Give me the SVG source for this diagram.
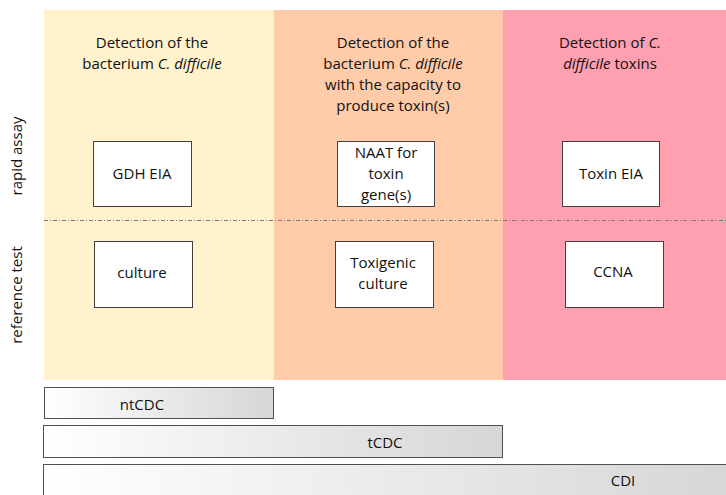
<svg xmlns="http://www.w3.org/2000/svg" width="726" height="495" viewBox="0 0 726 495">
<defs>
<linearGradient id="barg" x1="0" y1="0" x2="1" y2="0">
<stop offset="0" stop-color="#ffffff"/>
<stop offset="1" stop-color="#d6d6d6"/>
</linearGradient>
<style>
text{font-family:"Open Sans","Liberation Sans",sans-serif;font-size:15px;fill:#111111;text-anchor:middle}
.box{fill:#ffffff;stroke:#404040;stroke-width:1}
.bar{fill:url(#barg);stroke:#505050;stroke-width:1}
.sep{stroke:#7a7a7a;stroke-width:1;stroke-dasharray:4 2 1 2;fill:none}
</style>
</defs>
<rect id="col1" x="44" y="10" width="230" height="370" fill="#FFF2CC"/>
<rect id="col2" x="274" y="10" width="229" height="370" fill="#FFCBA9"/>
<rect id="col3" x="503" y="10" width="223" height="370" fill="#FFA0B1"/>
<g id="headers">
<text x="152" y="48">Detection of the</text>
<text x="152" y="69">bacterium <tspan font-style="italic">C. difficile</tspan></text>
<text x="393" y="48">Detection of the</text>
<text x="393" y="69">bacterium <tspan font-style="italic">C. difficile</tspan></text>
<text x="393" y="90">with the capacity to</text>
<text x="393" y="111">produce toxin(s)</text>
<text x="610" y="48">Detection of <tspan font-style="italic">C.</tspan></text>
<text x="610" y="69"><tspan font-style="italic">difficile</tspan> toxins</text>
</g>
<text id="rowlabel1" transform="translate(22,156) rotate(-90)">rapid assay</text>
<text id="rowlabel2" transform="translate(22,295) rotate(-90)">reference test</text>
<g id="connectors">
<line class="sep" x1="44" y1="220.5" x2="726" y2="220.5"/>
</g>
<g id="gdh"><rect class="box" x="93.5" y="141.5" width="98" height="65"/><text x="142" y="179">GDH EIA</text></g>
<g id="naat"><rect class="box" x="337.5" y="141.5" width="97" height="65"/><text x="386" y="158">NAAT for</text><text x="386" y="179">toxin</text><text x="386" y="200">gene(s)</text></g>
<g id="toxineia"><rect class="box" x="562.5" y="141.5" width="97" height="65"/><text x="611" y="179">Toxin EIA</text></g>
<g id="culture"><rect class="box" x="94.5" y="241.5" width="98" height="66"/><text x="142" y="278">culture</text></g>
<g id="toxigenic"><rect class="box" x="335.5" y="241.5" width="98" height="66"/><text x="383" y="268">Toxigenic</text><text x="383" y="289">culture</text></g>
<g id="ccna"><rect class="box" x="565.5" y="241.5" width="98" height="66"/><text x="613" y="277">CCNA</text></g>
<g id="ntcdc"><rect class="bar" x="44.5" y="387.5" width="229" height="31"/><text x="142" y="410">ntCDC</text></g>
<g id="tcdc"><rect class="bar" x="43.5" y="425.5" width="459" height="32"/><text x="385" y="448">tCDC</text></g>
<g id="cdi"><rect class="bar" x="43.5" y="464.5" width="690" height="40"/><text x="623" y="486">CDI</text></g>
</svg>
